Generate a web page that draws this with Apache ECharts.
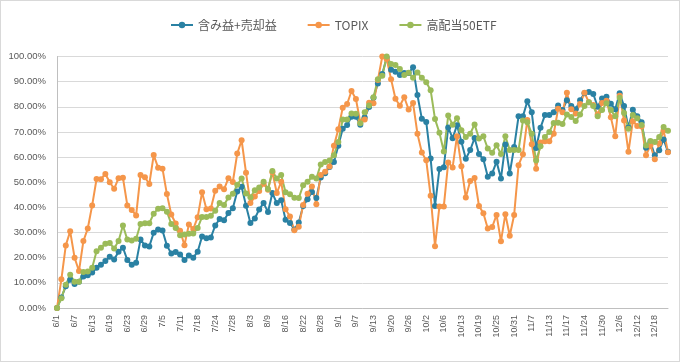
<!DOCTYPE html>
<html><head><meta charset="utf-8">
<script src="https://cdn.jsdelivr.net/npm/echarts@6/dist/echarts.min.js"></script>
<style>
html,body{margin:0;padding:0;background:#fff;}
#c{width:680px;height:362px;box-sizing:border-box;border:1px solid #d9d9d9;}
</style></head><body>
<div id="c"></div>
<script>
const categories = [
'6/1','6/2','6/5','6/6','6/7','6/8','6/9','6/12','6/13','6/14','6/15','6/16','6/19','6/20','6/21','6/22','6/23','6/26','6/27','6/28','6/29','6/30',
'7/3','7/4','7/5','7/6','7/7','7/10','7/11','7/12','7/13','7/14','7/18','7/19','7/20','7/21','7/24','7/25','7/26','7/27','7/28','7/31',
'8/1','8/2','8/3','8/4','8/7','8/8','8/9','8/10','8/14','8/15','8/16','8/17','8/18','8/21','8/22','8/23','8/24','8/25','8/28','8/29','8/30','8/31',
'9/1','9/4','9/5','9/6','9/7','9/8','9/11','9/12','9/13','9/14','9/15','9/19','9/20','9/21','9/22','9/25','9/26','9/27','9/28','9/29',
'10/2','10/3','10/4','10/5','10/6','10/10','10/11','10/12','10/13','10/16','10/17','10/18','10/19','10/20','10/23','10/24','10/25','10/26','10/27','10/30','10/31',
'11/1','11/2','11/6','11/7','11/8','11/9','11/10','11/13','11/14','11/15','11/16','11/17','11/20','11/21','11/22','11/24','11/27','11/28','11/29','11/30',
'12/1','12/4','12/5','12/6','12/7','12/8','12/11','12/12','12/13','12/14','12/15','12/18','12/19','12/20','12/21'];

const seriesNames = ['含み益+売却益','TOPIX','高配当50ETF'];

const unrealizedPlusRealized = [
0,4.2,8.6,11.2,9.5,10.4,12.5,13,14.1,16,17.2,18.7,20.4,19.3,22.4,24,19.1,17.2,18,27.2,24.9,24.5,
29.9,31.2,30.8,24.8,21.7,22.3,21.3,19.1,20.9,20,22.4,28.4,27.7,28,32.8,35.4,34.9,37.8,39.7,46.3,
48.2,40.7,33.8,35.6,39.2,41.7,38.2,45.7,41.7,42.8,35.1,33.8,31.2,34,40.6,43.2,46.1,43.7,51.9,53.6,56.1,58.1,
64.5,71.3,72.8,76,76,72.9,75.7,79.9,83.6,89.3,93,99.5,94.7,93.9,92.6,93.4,93.4,95.7,84.7,75.2,
74,59.4,40.6,55.3,56,71.8,67.5,72.7,66.1,59.3,62.8,67.6,61.2,59.1,52.2,53.5,58.2,51.5,65,53.5,64,
76.2,76.2,82.2,77.8,63.6,71.7,76.7,76.7,77.8,80.5,78.7,82.6,80.3,79,82.6,85.4,85.9,85.1,80,83.3,
84,81.2,79,85.4,80.3,71.8,78.8,76.2,73.9,63.7,66,60.7,62.7,67,62.1];

const topix = [
0,11.4,24.9,30.5,20,14.7,26.6,31.6,40.8,51.3,51.2,53.3,50,47.4,51.6,51.8,40.8,39,36.8,52.9,52,49.3,
60.8,55.8,55.4,45.3,37.2,33.6,30.7,25,33.2,31.4,36.1,46,39.3,39.6,46.6,48.3,47.2,51.6,50.1,61.4,
66.7,53.8,41.7,44.3,46.5,49.4,47,54,45.7,50.2,39.3,36.4,30.9,32.3,41,45.4,48.3,41.3,52.9,54.2,56.3,64.5,
71.1,79.6,81.1,86.3,83.1,73.9,75,81.6,81.4,90.7,100,99,91,83.2,80.4,83.8,78.9,81.5,69.3,61.8,
58.7,44.6,24.6,40.4,40.4,57.9,55.9,68.3,56.4,43.9,50.5,51.7,40.6,37.7,31.6,32.2,37,26.5,37.3,28.7,37,
56.8,61.1,74.8,65.1,55.4,65.8,66.3,66.3,69.3,79.2,77.8,85.6,79,77.3,81.1,85.6,81.8,80.7,76.9,81.5,
82.4,75.8,68.3,84.4,74.6,62.1,74.3,72.4,72.2,60.7,64.7,59.1,65.4,70.6,61.9];

const highDividend50 = [
0,3.9,9.2,13.2,10.4,10.4,14.3,14.5,16,22.6,24,25.5,25.8,23.7,26.6,32.8,27.2,26.8,27.5,33.4,33.7,33.7,
37.5,39.5,39.7,38.3,33.4,31.8,28.9,29.2,29.5,29.6,31.8,36.2,36.2,36.7,38.7,41.7,41,43.9,45.4,49,
51.5,45.5,44,46.8,47.9,50.2,47.3,54.5,51.5,52.9,46,45.2,43.8,43.7,48.8,50.2,52.2,51.5,57.1,58.1,58.6,60.7,
66,75,75,77.3,77.2,73.5,77.8,80.5,83.8,91,92.3,100,97,96.6,95,92.6,93.5,91.6,93.6,91.6,
89.8,86.6,75.1,69.7,62.2,76.5,72.9,75.4,70.7,68,69.3,73,67.4,68.3,63.4,61.7,64.7,61.2,68.3,62.8,62.8,
62.8,74.6,73.9,69.3,58.6,64.3,68,70,73.6,73.7,73.2,76.9,75.9,74.4,76.9,80.3,81.8,80.3,76.2,78.7,
81.4,78.7,76.2,83.6,77.5,71.3,76.7,75.4,72.8,64.6,66.4,66,68,72,70.5];

const colors = ['#2A81A3','#F5964A','#9BBB59'];
const values = [unrealizedPlusRealized, topix, highDividend50];

const chart = echarts.init(document.getElementById('c'), null, {renderer:'canvas'});
const yFont = '"Liberation Sans Narrow","Liberation Sans",Arial,sans-serif';
const xFont = '"Liberation Sans",Arial,sans-serif';
chart.setOption({
  animation:false,
  color:colors,
  legend:{
    top:13, left:164,
    itemWidth:22, itemHeight:8, itemGap:30,
    data:seriesNames,
    textStyle:{fontSize:12, color:'#595959', fontFamily:'"Noto Sans CJK JP",sans-serif'}
  },
  grid:{left:56, right:11, top:55.5, bottom:53},
  xAxis:{
    type:'category', data:categories, boundaryGap:false,
    axisLine:{lineStyle:{color:'#bfbfbf'}},
    axisTick:{show:false},
    axisLabel:{interval:3, rotate:90, fontSize:9, color:'#595959', margin:7, fontFamily:xFont}
  },
  yAxis:{
    type:'value', min:0, max:100, interval:10,
    axisLine:{show:true, lineStyle:{color:'#bfbfbf'}},
    axisTick:{show:false},
    splitLine:{lineStyle:{color:'#d9d9d9'}},
    axisLabel:{fontSize:9.5, color:'#595959', margin:11, fontFamily:yFont,
      formatter:v=>v.toFixed(2)+'%'}
  },
  series: seriesNames.map((n,k)=>({
    name:n, type:'line', data:values[k],
    symbol:'circle', symbolSize:6, showAllSymbol:true,
    lineStyle:{width:2, color:colors[k]},
    itemStyle:{color:colors[k]}
  }))
});
</script>
</body></html>
